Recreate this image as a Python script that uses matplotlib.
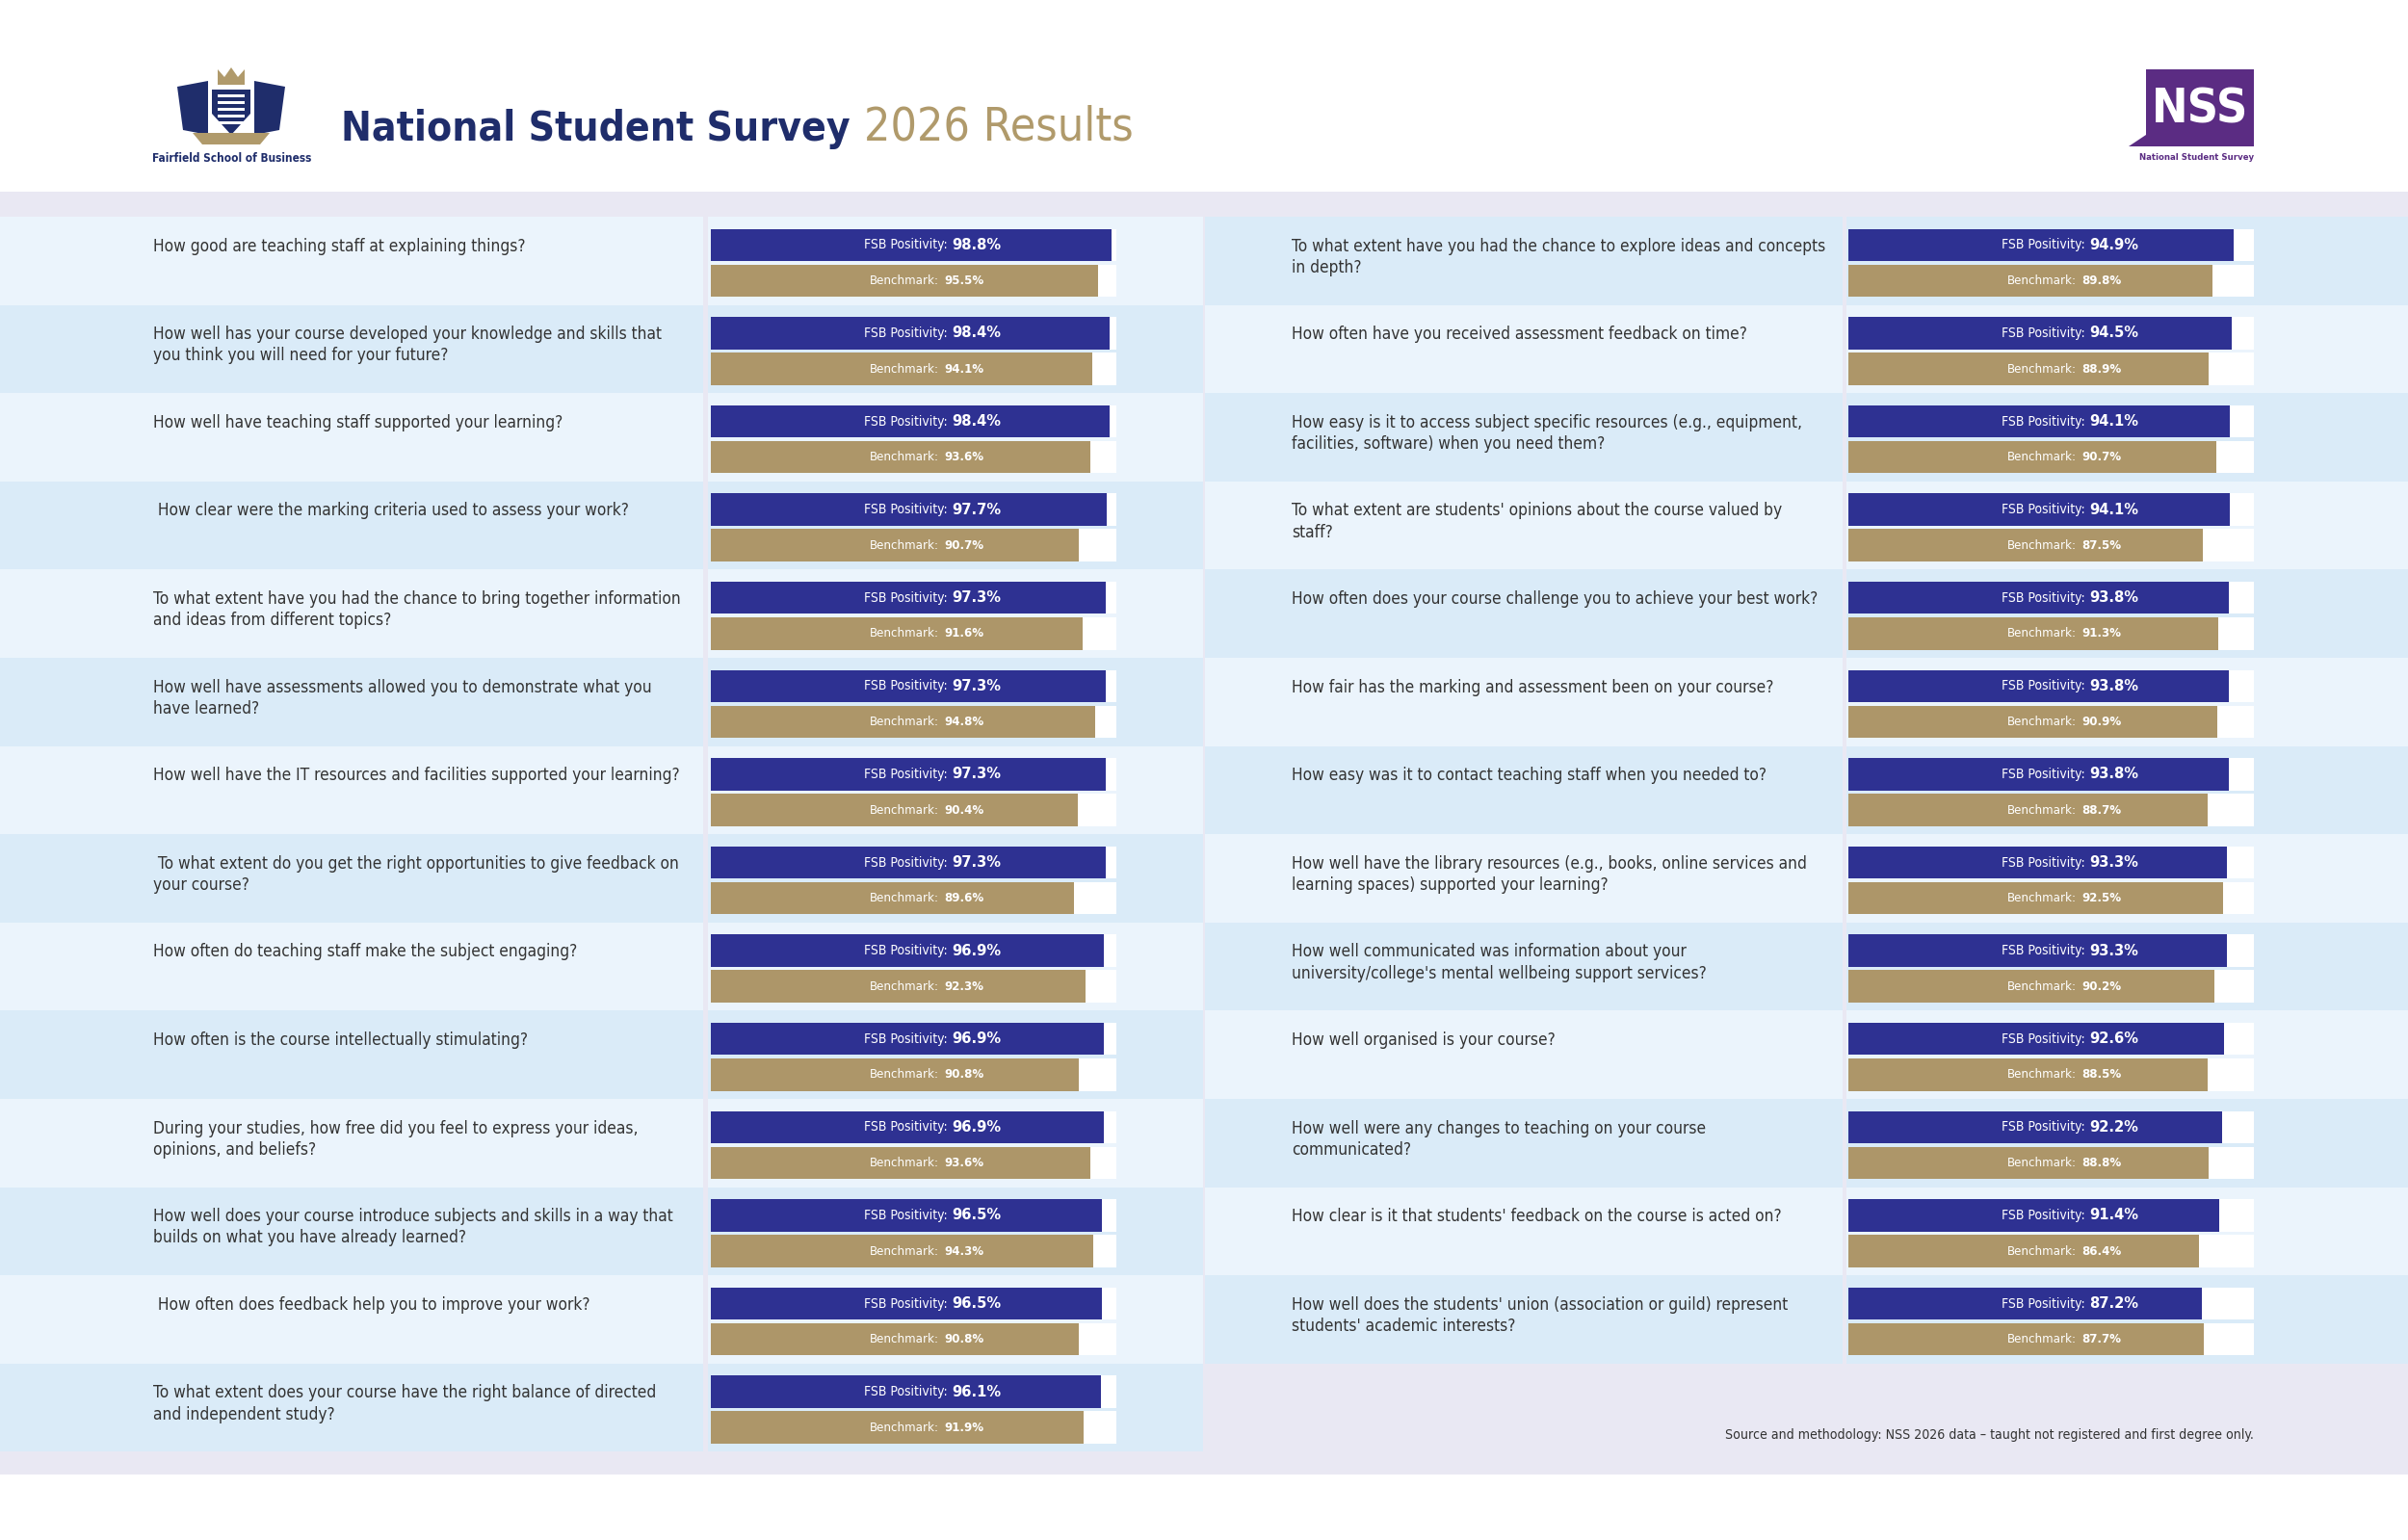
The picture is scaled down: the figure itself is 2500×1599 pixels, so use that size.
import matplotlib
matplotlib.use("Agg")
import matplotlib.pyplot as plt
from matplotlib.patches import Rectangle, Polygon
from matplotlib import font_manager as fm

cond = [f for f in fm.fontManager.ttflist if 'condensed' in str(f.stretch).lower() or 'Condensed' in f.fname or 'Narrow' in f.name]
COND = None
for f in cond:
    if 'DejaVu' in f.name or 'Liberation' in f.name or 'Roboto' in f.name or 'Noto' in f.name:
        COND = f
        break
if COND is not None:
    FAM = [COND.name, 'DejaVu Sans']
    STRETCH = 'condensed'
else:
    FAM = ['Liberation Sans', 'DejaVu Sans']
    STRETCH = 'normal'
plt.rcParams['font.family'] = FAM
plt.rcParams['font.stretch'] = STRETCH

left_questions = [
    "How good are teaching staff at explaining things?",
    "How well has your course developed your knowledge and skills that\nyou think you will need for your future?",
    "How well have teaching staff supported your learning?",
    " How clear were the marking criteria used to assess your work?",
    "To what extent have you had the chance to bring together information\nand ideas from different topics?",
    "How well have assessments allowed you to demonstrate what you\nhave learned?",
    "How well have the IT resources and facilities supported your learning?",
    " To what extent do you get the right opportunities to give feedback on\nyour course?",
    "How often do teaching staff make the subject engaging?",
    "How often is the course intellectually stimulating?",
    "During your studies, how free did you feel to express your ideas,\nopinions, and beliefs?",
    "How well does your course introduce subjects and skills in a way that\nbuilds on what you have already learned?",
    " How often does feedback help you to improve your work?",
    "To what extent does your course have the right balance of directed\nand independent study?",
]
left_fsb = [98.8, 98.4, 98.4, 97.7, 97.3, 97.3, 97.3, 97.3, 96.9, 96.9, 96.9, 96.5, 96.5, 96.1]
left_bench = [95.5, 94.1, 93.6, 90.7, 91.6, 94.8, 90.4, 89.6, 92.3, 90.8, 93.6, 94.3, 90.8, 91.9]

right_questions = [
    "To what extent have you had the chance to explore ideas and concepts\nin depth?",
    "How often have you received assessment feedback on time?",
    "How easy is it to access subject specific resources (e.g., equipment,\nfacilities, software) when you need them?",
    "To what extent are students' opinions about the course valued by\nstaff?",
    "How often does your course challenge you to achieve your best work?",
    "How fair has the marking and assessment been on your course?",
    "How easy was it to contact teaching staff when you needed to?",
    "How well have the library resources (e.g., books, online services and\nlearning spaces) supported your learning?",
    "How well communicated was information about your\nuniversity/college's mental wellbeing support services?",
    "How well organised is your course?",
    "How well were any changes to teaching on your course\ncommunicated?",
    "How clear is it that students' feedback on the course is acted on?",
    "How well does the students' union (association or guild) represent\nstudents' academic interests?",
]
right_fsb = [94.9, 94.5, 94.1, 94.1, 93.8, 93.8, 93.8, 93.3, 93.3, 92.6, 92.2, 91.4, 87.2]
right_bench = [89.8, 88.9, 90.7, 87.5, 91.3, 90.9, 88.7, 92.5, 90.2, 88.5, 88.8, 86.4, 87.7]

NAVY = '#1F2D6B'
GOLD = '#B09A6B'
FSBC = '#2E3192'
BENC = '#AD9669'
LIGHT = '#EBF4FC'
DARK = '#DAEBF8'
LAV = '#E9E8F3'
PURPLE = '#5B2C83'

W, H = 2500, 1599
fig = plt.figure(figsize=(25, 15.99), dpi=100)
bg = fig.add_axes([0, 0, 1, 1])
bg.set_xlim(0, W); bg.set_ylim(H, 0); bg.axis('off')
renderer = fig.canvas.get_renderer()

def fit(t, width_px):
    fs = t.get_fontsize()
    w = t.get_window_extent(renderer).width
    t.set_fontsize(fs * width_px / w)

TOP = 225
RH = 91.6
bg.add_patch(Rectangle((0, 199), W, 1531 - 199, color=LAV, lw=0))

QFS = 14
probe = bg.text(0, 0, "How well have the IT resources and facilities supported your learning?", fontsize=QFS)
QFS = QFS * 551 / probe.get_window_extent(renderer).width
probe.remove()

def column(questions, fsb, bench, tx0, tx1, bx0, bx1, barx, start_dark):
    n = len(questions)
    for i, q in enumerate(questions):
        y = TOP + i * RH
        c = DARK if (i % 2 == 0) == start_dark else LIGHT
        bg.add_patch(Rectangle((tx0, y), tx1 - tx0, RH, color=c, lw=0))
        bg.add_patch(Rectangle((bx0, y), bx1 - bx0, RH, color=c, lw=0))
        bg.text(tx0 + (159 if tx0 == 0 else 90), y + 0.235 * RH, q, va='top', ha='left',
                fontsize=QFS, color='#333333', linespacing=1.3)
    bw = 421
    ax = fig.add_axes([barx / W, 1 - (TOP + n * RH) / H, bw / W, n * RH / H])
    ax.set_xlim(0, 100); ax.set_ylim(n, 0); ax.axis('off')
    ys = [i + 0.32 for i in range(n)]
    yb = [i + 0.725 for i in range(n)]
    ax.barh(ys, [100] * n, height=0.365, color='white', lw=0)
    ax.barh(yb, [100] * n, height=0.365, color='white', lw=0)
    ax.barh(ys, fsb, height=0.365, color=FSBC, lw=0)
    ax.barh(yb, bench, height=0.365, color=BENC, lw=0)
    for i in range(n):
        ax.text(58.3, ys[i], "FSB Positivity:", ha='right', va='center', color='white', fontsize=QFS * 0.8)
        ax.text(59.5, ys[i], f"{fsb[i]:.1f}%", ha='left', va='center', color='white', fontsize=QFS * 0.95, fontweight='bold')
        ax.text(56.3, yb[i], "Benchmark:", ha='right', va='center', color='white', fontsize=QFS * 0.76)
        ax.text(57.5, yb[i], f"{bench[i]:.1f}%", ha='left', va='center', color='white', fontsize=QFS * 0.76, fontweight='bold')

column(left_questions, left_fsb, left_bench, 0, 730, 735, 1249, 738, False)
column(right_questions, right_fsb, right_bench, 1251, 1913, 1917, 2500, 1919, True)

src = bg.text(2340, 1490, "Source and methodology: NSS 2026 data \u2013 taught not registered and first degree only.",
              ha='right', va='center', fontsize=11.5, color='#333333')
fit(src, 545)

t1 = bg.text(354, 146, "National Student Survey", ha='left', va='baseline', fontsize=46,
             fontweight='bold', color=NAVY)
fit(t1, 528)
x_end = bg.transData.inverted().transform((t1.get_window_extent(renderer).x1, 0))[0]
t2 = bg.text(x_end + 14, 146, "2026 Results", ha='left', va='baseline', fontsize=t1.get_fontsize(), color=GOLD)
fit(t2, 1176 - x_end - 14)

cx = 240
bg.add_patch(Polygon([[cx - 20, 93], [cx + 20, 93], [cx + 20, 118], [cx, 140], [cx - 20, 118]],
                     closed=True, color=NAVY, lw=0))
for k in range(5):
    bg.add_patch(Rectangle((cx - 14, 98 + k * 7), 28, 3, color='white', lw=0))
bg.add_patch(Polygon([[cx - 14, 72], [cx - 14, 88], [cx + 14, 88], [cx + 14, 72], [cx + 7, 80],
                      [cx, 70], [cx - 7, 80]], closed=True, color=GOLD, lw=0))
bg.add_patch(Polygon([[cx - 56, 90], [cx - 24, 84], [cx - 24, 140], [cx - 50, 135]], color=NAVY, lw=0))
bg.add_patch(Polygon([[cx + 56, 90], [cx + 24, 84], [cx + 24, 140], [cx + 50, 135]], color=NAVY, lw=0))
bg.add_patch(Polygon([[cx - 40, 138], [cx + 40, 138], [cx + 30, 150], [cx - 30, 150]], color=GOLD, lw=0))
ct = bg.text(cx + 1, 165, "Fairfield School of Business", ha='center', va='center', fontsize=10.5,
             fontweight='bold', color=NAVY)
fit(ct, 165)

bg.add_patch(Polygon([[2228, 72], [2340, 72], [2340, 152], [2210, 152], [2228, 140]], color=PURPLE, lw=0))
nt = bg.text(2284, 114, "NSS", ha='center', va='center', fontsize=46, fontweight='bold', color='white')
fit(nt, 100)
st = bg.text(2340, 163, "National Student Survey", ha='right', va='center', fontsize=8.5,
             fontweight='bold', color=PURPLE)
fit(st, 118)

fig.savefig("out.png", dpi=100)
